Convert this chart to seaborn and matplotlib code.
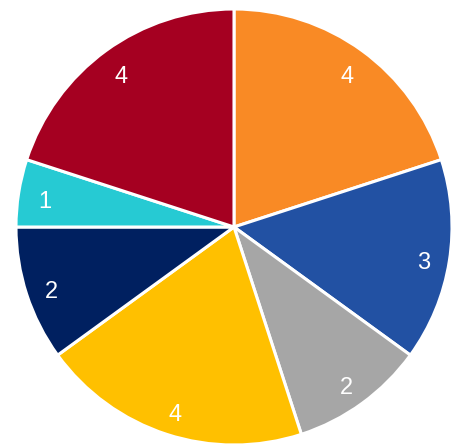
import matplotlib
matplotlib.use("Agg")
import matplotlib.pyplot as plt
import seaborn as sns

sns.set_theme(style="white")
plt.rcParams["font.family"] = ["Liberation Sans", "DejaVu Sans"]

# Slice values, clockwise from 12 o'clock
values = [4, 3, 2, 4, 2, 1, 4]
colors = ["#F98A25", "#2251A3", "#A6A6A6", "#FFC000", "#002060", "#26CAD3", "#A50021"]
palette = sns.color_palette(colors)

fig = plt.figure(figsize=(4.53, 4.44), dpi=100)
ax = fig.add_axes([0, 0, 1, 1])

wedges, texts = ax.pie(
    values,
    colors=palette,
    startangle=90,
    counterclock=False,
    radius=218,
    center=(234, 217),
    labels=[str(v) for v in values],
    labeldistance=0.88,
    wedgeprops=dict(edgecolor="white", linewidth=2.2),
    textprops=dict(color="white", fontsize=17),
    frame=True,
)
for t in texts:
    t.set_ha("center")
    t.set_va("center_baseline")
    x, y = t.get_position()
    t.set_position((x, y - 3))

ax.set_xlim(0, 453)
ax.set_ylim(0, 444)
ax.set_aspect("equal")
ax.axis("off")

fig.savefig("out.png", dpi=100)
